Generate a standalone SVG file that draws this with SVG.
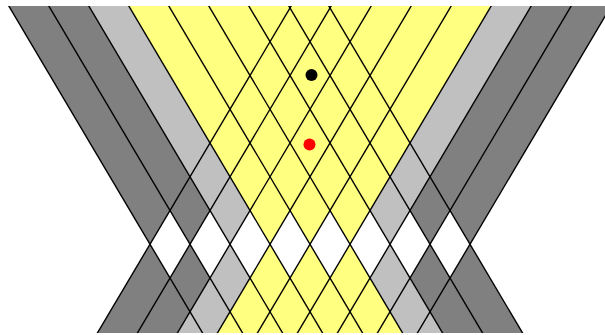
<svg xmlns="http://www.w3.org/2000/svg" width="605" height="335" viewBox="0 0 605 335">
  <style>
    .yel { fill: #ffff80; }
    .dk { fill: #808080; }
    .lt { fill: #c0c0c0; }
    .wh { fill: #ffffff; }
    .ln { stroke: #000; stroke-width: 1.4; fill: none; }
  </style>
  <defs>
    <clipPath id="frame">
      <rect x="0" y="6" width="605" height="327"/>
    </clipPath>
  </defs>
  <rect x="0" y="0" width="605" height="335" fill="#ffffff"/>
  <g clip-path="url(#frame)">
    <g id="beams">
      <polygon class="yel" points="-15,-34.19 305,-34.19 540,362.375 220,362.375"/>
      <polygon class="yel" points="315,-34.19 635,-34.19 400,362.375 80,362.375"/>
    </g>
    <g id="shading">
      <polygon class="dk" points="-15,-34.19 65,-34.19 210,210.5 190,244.25 170,210.5 150,244.25"/>
      <polygon class="lt" points="65,-34.19 105,-34.19 250,210.5 230,244.25"/>
      <polygon class="dk" points="470,244.25 635,-34.19 555,-34.19 410,210.5 430,244.25 450,210.5"/>
      <polygon class="lt" points="390,244.25 555,-34.19 515,-34.19 370,210.5"/>
      <polygon class="dk" points="150,244.25 170,278 190,244.25 210,278 160,362.375 80,362.375"/>
      <polygon class="lt" points="230,244.25 250,278 200,362.375 160,362.375"/>
      <polygon class="dk" points="470,244.25 540,362.375 460,362.375 410,278 430,244.25 450,278"/>
      <polygon class="lt" points="390,244.25 460,362.375 420,362.375 370,278"/>
    </g>
    <g id="waist">
      <polygon class="wh" points="150,244.25 170,210.5 190,244.25 170,278"/>
      <polygon class="wh" points="190,244.25 210,210.5 230,244.25 210,278"/>
      <polygon class="wh" points="230,244.25 250,210.5 270,244.25 250,278"/>
      <polygon class="wh" points="270,244.25 290,210.5 310,244.25 290,278"/>
      <polygon class="wh" points="310,244.25 330,210.5 350,244.25 330,278"/>
      <polygon class="wh" points="350,244.25 370,210.5 390,244.25 370,278"/>
      <polygon class="wh" points="390,244.25 410,210.5 430,244.25 410,278"/>
      <polygon class="wh" points="430,244.25 450,210.5 470,244.25 450,278"/>
    </g>
    <g id="connectors">
      <g id="descending">
        <line class="ln" x1="-15" y1="-34.19" x2="220" y2="362.375"/>
        <line class="ln" x1="25" y1="-34.19" x2="260" y2="362.375"/>
        <line class="ln" x1="65" y1="-34.19" x2="300" y2="362.375"/>
        <line class="ln" x1="105" y1="-34.19" x2="340" y2="362.375"/>
        <line class="ln" x1="145" y1="-34.19" x2="380" y2="362.375"/>
        <line class="ln" x1="185" y1="-34.19" x2="420" y2="362.375"/>
        <line class="ln" x1="225" y1="-34.19" x2="460" y2="362.375"/>
        <line class="ln" x1="265" y1="-34.19" x2="500" y2="362.375"/>
        <line class="ln" x1="305" y1="-34.19" x2="540" y2="362.375"/>
      </g>
      <g id="ascending">
        <line class="ln" x1="315" y1="-34.19" x2="80" y2="362.375"/>
        <line class="ln" x1="355" y1="-34.19" x2="120" y2="362.375"/>
        <line class="ln" x1="395" y1="-34.19" x2="160" y2="362.375"/>
        <line class="ln" x1="435" y1="-34.19" x2="200" y2="362.375"/>
        <line class="ln" x1="475" y1="-34.19" x2="240" y2="362.375"/>
        <line class="ln" x1="515" y1="-34.19" x2="280" y2="362.375"/>
        <line class="ln" x1="555" y1="-34.19" x2="320" y2="362.375"/>
        <line class="ln" x1="595" y1="-34.19" x2="360" y2="362.375"/>
        <line class="ln" x1="635" y1="-34.19" x2="400" y2="362.375"/>
      </g>
    </g>
  </g>
  <g id="dot-black">
    <circle cx="311.5" cy="75" r="6" fill="#000000"/>
  </g>
  <g id="dot-red">
    <circle cx="309.5" cy="144.5" r="6" fill="#ff0000"/>
  </g>
</svg>
